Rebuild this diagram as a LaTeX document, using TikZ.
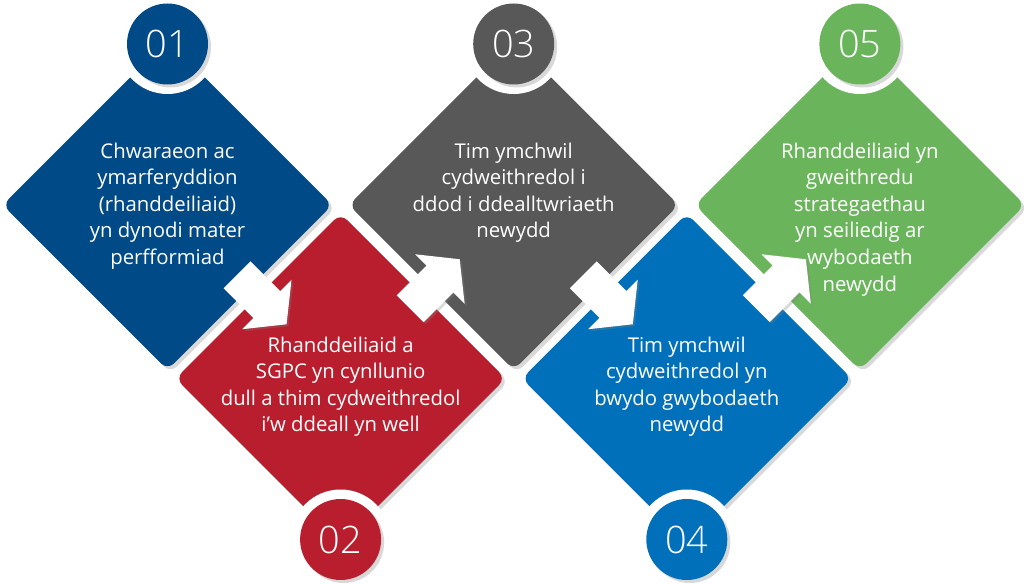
\documentclass[tikz,border=0pt]{standalone}
\usepackage{fontspec}
\setmainfont{Open Sans}
\IfFontExistsTF{Open Sans Light}{\newfontfamily\numfont{Open Sans Light}}{\newfontfamily\numfont{Open Sans}}
\usetikzlibrary{shapes.geometric,shadows,calc}
\definecolor{cA}{RGB}{0,75,135}
\definecolor{cB}{RGB}{184,30,45}
\definecolor{cC}{RGB}{88,88,88}
\definecolor{cD}{RGB}{0,112,186}
\definecolor{cE}{RGB}{106,181,92}
\tikzset{
  dia/.style={diamond, aspect=1, minimum width=330bp, minimum height=330bp, inner sep=0pt,
    rounded corners=9bp, fill=#1,
    drop shadow={opacity=0.3, shadow xshift=3bp, shadow yshift=-3bp}},
  numc/.style={circle, minimum size=81bp, inner sep=0pt, fill=#1, text=white,
    font=\numfont\fontsize{38}{40}\selectfont,
    drop shadow={opacity=0.3, shadow xshift=3bp, shadow yshift=-3bp}},
  notch/.style={fill=white},
  txt/.style={text=white, align=center, inner sep=0pt, anchor=north,
    font=\fontsize{20.4}{26.7}\selectfont},
  blockarrow/.style={fill=white,
    drop shadow={opacity=0.3, shadow xshift=2bp, shadow yshift=-2bp}}
}
\begin{document}
\begin{tikzpicture}[x=1bp,y=-1bp]
\useasboundingbox (0,0) rectangle (1030,584);
% diamonds
\node[dia=cA] (d1) at (167.5,205) {};
\node[dia=cB] (d2) at (340.6,378.5) {};
\node[dia=cC] (d3) at (513.7,205) {};
\node[dia=cD] (d4) at (686.8,378.5) {};
\node[dia=cE] (d5) at (859.9,205) {};
% notches
\coordinate (c1) at (167.5,44);
\coordinate (c2) at (340.6,539.5);
\coordinate (c3) at (513.7,44);
\coordinate (c4) at (686.8,539.5);
\coordinate (c5) at (859.9,44);
\foreach \c in {c1,c2,c3,c4,c5} \fill[notch] (\c) circle (50);
% number circles
\node[numc=cA] (n1) at (c1) {01};
\node[numc=cB] (n2) at (c2) {02};
\node[numc=cC] (n3) at (c3) {03};
\node[numc=cD] (n4) at (c4) {04};
\node[numc=cE] (n5) at (c5) {05};
% block arrows
\begin{scope}[shift={($(d1.center)!0.5!(d2.center)$)}, rotate=-45]
  \path[blockarrow] (-24,-19) -- (18,-19) -- (18,-35) -- (46,0) -- (18,35) -- (18,19) -- (-24,19) -- cycle;
\end{scope}
\begin{scope}[shift={($(d2.center)!0.5!(d3.center)$)}, rotate=45]
  \path[blockarrow] (-24,-19) -- (18,-19) -- (18,-35) -- (46,0) -- (18,35) -- (18,19) -- (-24,19) -- cycle;
\end{scope}
\begin{scope}[shift={($(d3.center)!0.5!(d4.center)$)}, rotate=-45]
  \path[blockarrow] (-24,-19) -- (18,-19) -- (18,-35) -- (46,0) -- (18,35) -- (18,19) -- (-24,19) -- cycle;
\end{scope}
\begin{scope}[shift={($(d4.center)!0.5!(d5.center)$)}, rotate=45]
  \path[blockarrow] (-24,-19) -- (18,-19) -- (18,-35) -- (46,0) -- (18,35) -- (18,19) -- (-24,19) -- cycle;
\end{scope}
% texts
\node[txt] (t1) at (167.5,142.5) {Chwaraeon ac\\ymarferyddion\\(rhanddeiliaid)\\yn dynodi mater\\perfformiad};
\node[txt] (t2) at (340.6,336.5) {Rhanddeiliaid a\\SGPC yn cynllunio\\dull a thim cydweithredol\\i’w ddeall yn well};
\node[txt] (t3) at (513.7,142.5) {Tim ymchwil\\cydweithredol i\\ddod i ddealltwriaeth\\newydd};
\node[txt] (t4) at (686.8,336.5) {Tim ymchwil\\cydweithredol yn\\bwydo gwybodaeth\\newydd};
\node[txt] (t5) at (859.9,142.5) {Rhanddeiliaid yn\\gweithredu\\strategaethau\\yn seiliedig ar\\wybodaeth\\newydd};
\end{tikzpicture}
\end{document}
